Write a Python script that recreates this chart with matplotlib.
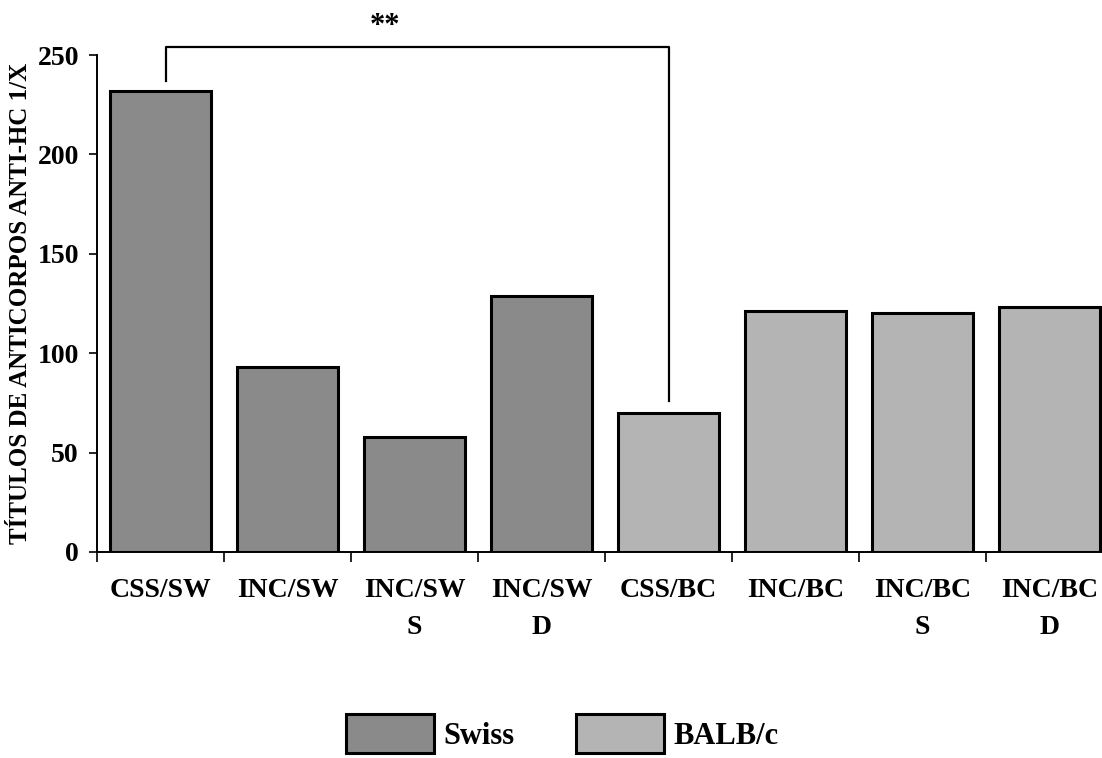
import matplotlib
matplotlib.use("Agg")
import matplotlib.pyplot as plt
from matplotlib.patches import Patch
import numpy as np

plt.rcParams['font.family'] = ['Liberation Serif', 'DejaVu Serif']
plt.rcParams['font.weight'] = 'bold'

# anti-HC antibody titres per group
categories = ["CSS/SW", "INC/SW", "INC/SW\nS", "INC/SW\nD",
              "CSS/BC", "INC/BC", "INC/BC\nS", "INC/BC\nD"]
titres = [232, 93, 58, 129, 70, 121, 120, 123]
strain = ["Swiss", "Swiss", "Swiss", "Swiss",
          "BALB/c", "BALB/c", "BALB/c", "BALB/c"]
yticks = [0, 50, 100, 150, 200, 250]

colours = {"Swiss": "#8a8a8a", "BALB/c": "#b4b4b4"}

fig = plt.figure(figsize=(11.02, 7.58), dpi=100)
ax = fig.add_axes([0.088, 0.2718, 0.922, 0.6556])

x = np.arange(len(categories)) + 0.5
ax.bar(x, titres, width=0.8, color=[colours[s] for s in strain],
       edgecolor="black", linewidth=2.2, zorder=3)

ax.set_xlim(0, len(categories))
ax.set_ylim(0, 250)
ax.set_yticks(yticks)
ax.tick_params(axis="y", direction="out", length=6, width=1.2,
               pad=7, labelsize=20)

# boundary ticks between groups, labels centred under each bar
ax.set_xticks(np.arange(len(categories)))
ax.set_xticklabels([])
ax.set_xticks(x, minor=True)
ax.set_xticklabels(categories, minor=True, fontsize=20, linespacing=1.6)
ax.tick_params(axis="x", which="major", direction="out", length=7, width=1.2)
ax.tick_params(axis="x", which="minor", length=0, pad=19)

for side in ("top", "right"):
    ax.spines[side].set_visible(False)
for side in ("left", "bottom"):
    ax.spines[side].set_linewidth(1.4)

ax.set_ylabel("TÍTULOS DE ANTICORPOS ANTI-HC 1/X", fontsize=18,
              fontweight="bold", labelpad=4)

# significance bracket CSS/SW vs CSS/BC
ax.plot([0.54, 0.54, 4.5, 4.5], [237, 254, 254, 76], color="black",
        linewidth=1.6, clip_on=False)
ax.text(2.27, 257, "**", ha="center", va="bottom", fontsize=22)

handles = [Patch(facecolor=colours[s], edgecolor="black", linewidth=2.2, label=s)
           for s in ("Swiss", "BALB/c")]
fig.legend(handles=handles, loc="lower center", bbox_to_anchor=(0.51, -0.03),
           ncol=2, frameon=False, fontsize=22, handlelength=2.9,
           handleheight=1.6, handletextpad=0.3, columnspacing=2.0)

fig.savefig("out.png", dpi=100)
